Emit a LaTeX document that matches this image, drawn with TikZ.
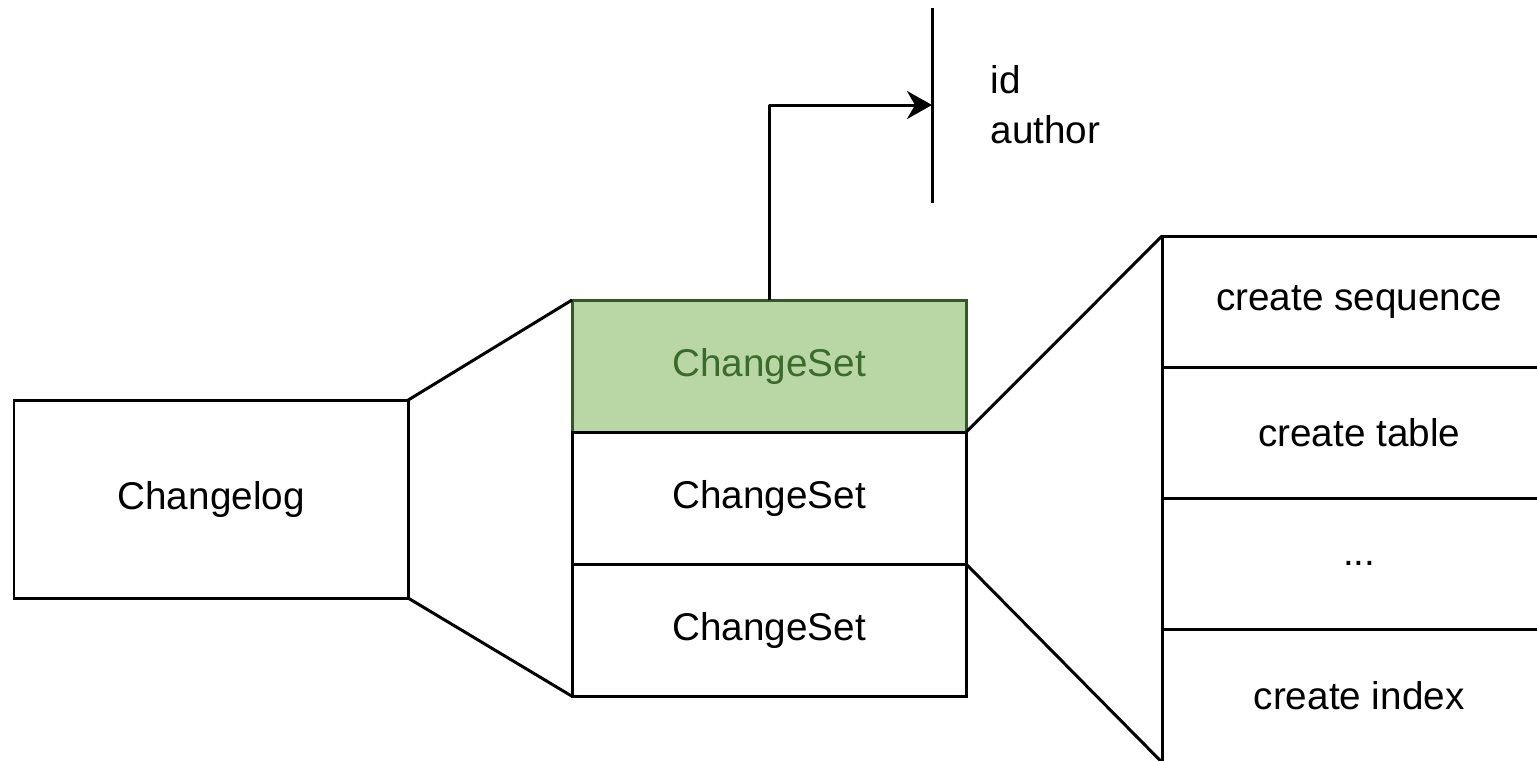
\documentclass[tikz,border=0pt]{standalone}
\usepackage{fontspec}
\setmainfont{Liberation Sans}
\usepackage{tikz}
\usetikzlibrary{positioning,arrows.meta}

\definecolor{setgreen}{HTML}{B9D7A5}
\definecolor{setgreendark}{HTML}{35582A}
\definecolor{setgreentext}{HTML}{3B6A2B}

\begin{document}
\begin{tikzpicture}[x=0.01cm, y=-0.01cm, node distance=0pt, font=\fontsize{11}{14.2}\selectfont]

\tikzstyle{boks}=[rectangle, draw=black, line width=0.85pt, minimum width=3.94cm, minimum height=1.32cm, inner sep=0pt, outer sep=0pt, text centered]
\tikzstyle{gronboks}=[boks, fill=setgreen, draw=setgreendark, text=setgreentext]
\tikzstyle{rad}=[boks, minimum height=1.31cm]
\tikzstyle{strek}=[line width=0.85pt, line join=round]

\useasboundingbox (0,0) rectangle (1537,760);
\clip (0,0) rectangle (1537,760);

\node[boks, minimum height=1.98cm, anchor=north west] (changelog) at (14,400) {Changelog};

\node[gronboks, anchor=north west] (set1) at (572,300) {ChangeSet};
\node[boks, below=of set1] (set2) {ChangeSet};
\node[boks, below=of set2] (set3) {ChangeSet};

\node[rad, anchor=north west] (seq) at (1162,236) {create sequence};
\node[rad, below=of seq] (tab) {create table};
\node[rad, below=of tab] (dots) {...};
\node[rad, below=of dots, minimum height=1.33cm] (idx) {create index};

\draw[strek] (changelog.north east) -- (set1.north west);
\draw[strek] (changelog.south east) -- (set3.south west);
\draw[strek] (set1.south east) -- (seq.north west);
\draw[strek] (set2.south east) -- (idx.south west);

%\draw (set1.north west) rectangle (set3.south east);
\coordinate (bartop) at (932,8);
\coordinate (barbot) at (932,203);
\coordinate (knekk) at (932,105);
\draw[strek] (bartop) -- (barbot);
\draw[strek, -{Stealth[length=0.25cm, width=0.28cm, inset=0.08cm]}] (set1.north) |- (knekk);

\node[anchor=west, align=left, inner sep=0pt] (felt) at (990,105) {id\\author};

\end{tikzpicture}
\end{document}
